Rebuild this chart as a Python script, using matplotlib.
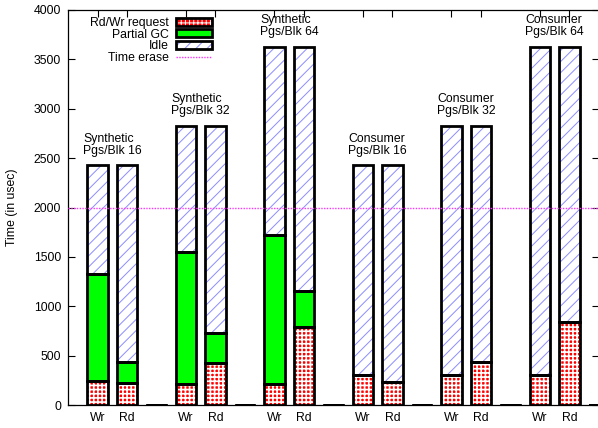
import numpy as np
import matplotlib
matplotlib.use("Agg")
import matplotlib.pyplot as plt
from matplotlib.patches import Patch
from matplotlib.lines import Line2D
from matplotlib.legend_handler import HandlerTuple

plt.rcParams['font.family'] = ['Liberation Sans', 'DejaVu Sans']

# Workload groups (one per Pgs/Blk setting)
groups = ["Synthetic\nPgs/Blk 16", "Synthetic\nPgs/Blk 32", "Synthetic\nPgs/Blk 64",
          "Consumer\nPgs/Blk 16", "Consumer\nPgs/Blk 32", "Consumer\nPgs/Blk 64"]
ops = ["Wr", "Rd"]

# Total time window per group (usec)
total_time = [2430, 2830, 3630, 2430, 2830, 3630]

# Rd/Wr request time (usec)
request_wr = [243, 213, 209, 304, 304, 304]
request_rd = [225, 428, 787, 236, 439, 843]

# Partial GC time (usec)
gc_wr = [1084, 1339, 1512, 0, 0, 0]
gc_rd = [210, 301, 371, 0, 0, 0]

time_erase = 2000

# Per-slot layout: Wr, Rd, empty separator for each group
request, gc, idle, labels = [], [], [], []
for t, rw, rr, gw, gr in zip(total_time, request_wr, request_rd, gc_wr, gc_rd):
    request += [rw, rr, 0]
    gc += [gw, gr, 0]
    idle += [t - rw - gw, t - rr - gr, 0]
    labels += ops + [""]
request = np.array(request, float)
gc = np.array(gc, float)
idle = np.array(idle, float)
x = np.arange(len(request))

W, H = 598, 428
fig = plt.figure(figsize=(W / 100, H / 100), dpi=100)
ax = fig.add_axes([68 / W, 23 / H, 531 / W, 395 / H])

fs = 8.8
bw = 0.7
lw = 2.0
red_c = '#ff0000'
green_c = '#00ff00'
blue_c = '#8c8cff'

# fill styles: (face, hatch colour, hatch, hatch linewidth)
styles = {
    'request': (red_c, 'white', '++++', 1.2),
    'gc': (green_c, None, None, 1.0),
    'idle': ('white', blue_c, '///', 0.7),
}

def fill_kw(style):
    face, hcol, hatch, hlw = styles[style]
    plt.rcParams['hatch.linewidth'] = hlw
    if hatch:
        return dict(facecolor=face, edgecolor=hcol, hatch=hatch, linewidth=0)
    return dict(facecolor=face, linewidth=0)

def stacked(vals, bottom, style):
    ax.bar(x, vals, bw, bottom=bottom, zorder=2, **fill_kw(style))
    ax.bar(x, vals, bw, bottom=bottom, fill=False, edgecolor='black',
           linewidth=lw, zorder=3)

stacked(request, 0, 'request')
stacked(gc, request, 'gc')
stacked(idle, request + gc, 'idle')

erase_style = dict(color='#ff33ff', linestyle=(0, (1, 1)), linewidth=1.0)
ax.axhline(time_erase, zorder=4, **erase_style)

# Group captions above each pair of bars
for g, name in enumerate(groups):
    cx = 3 * g + 0.5
    ax.text(cx, total_time[g] + 85, name, ha='center', va='bottom',
            multialignment='left', fontsize=fs, linespacing=1.0)

ax.set_xlim(-1, 17)
ax.set_ylim(0, 4000)
ax.set_yticks(np.arange(0, 4001, 500))
tick_pos = [i for i, l in enumerate(labels) if l]
ax.set_xticks(tick_pos)
ax.set_xticklabels([labels[i] for i in tick_pos])
ax.tick_params(direction='in', length=5, width=0.8, labelsize=fs,
               top=True, right=True, pad=5)
ax.set_ylabel("Time (in usec)", fontsize=fs, labelpad=11)
for s in ax.spines.values():
    s.set_linewidth(0.9)

# Legend with hatched swatches outlined in black
def swatch(style):
    inner = Patch(**fill_kw(style))
    outline = Patch(fill=False, edgecolor='black', linewidth=lw)
    return (inner, outline)

handles = [swatch('request'), swatch('gc'), swatch('idle'),
           Line2D([], [], **erase_style)]
names = ["Rd/Wr request", "Partial GC", "Idle", "Time erase"]
ax.legend(handles, names, handler_map={tuple: HandlerTuple(ndivide=1, pad=0)},
          loc='upper right', bbox_to_anchor=(0.272, 0.982), frameon=False,
          markerfirst=False, fontsize=fs, handlelength=3.0, handleheight=0.6,
          handletextpad=0.6, labelspacing=-0.04, borderpad=0, borderaxespad=0)

fig.savefig("out.png", dpi=100)
